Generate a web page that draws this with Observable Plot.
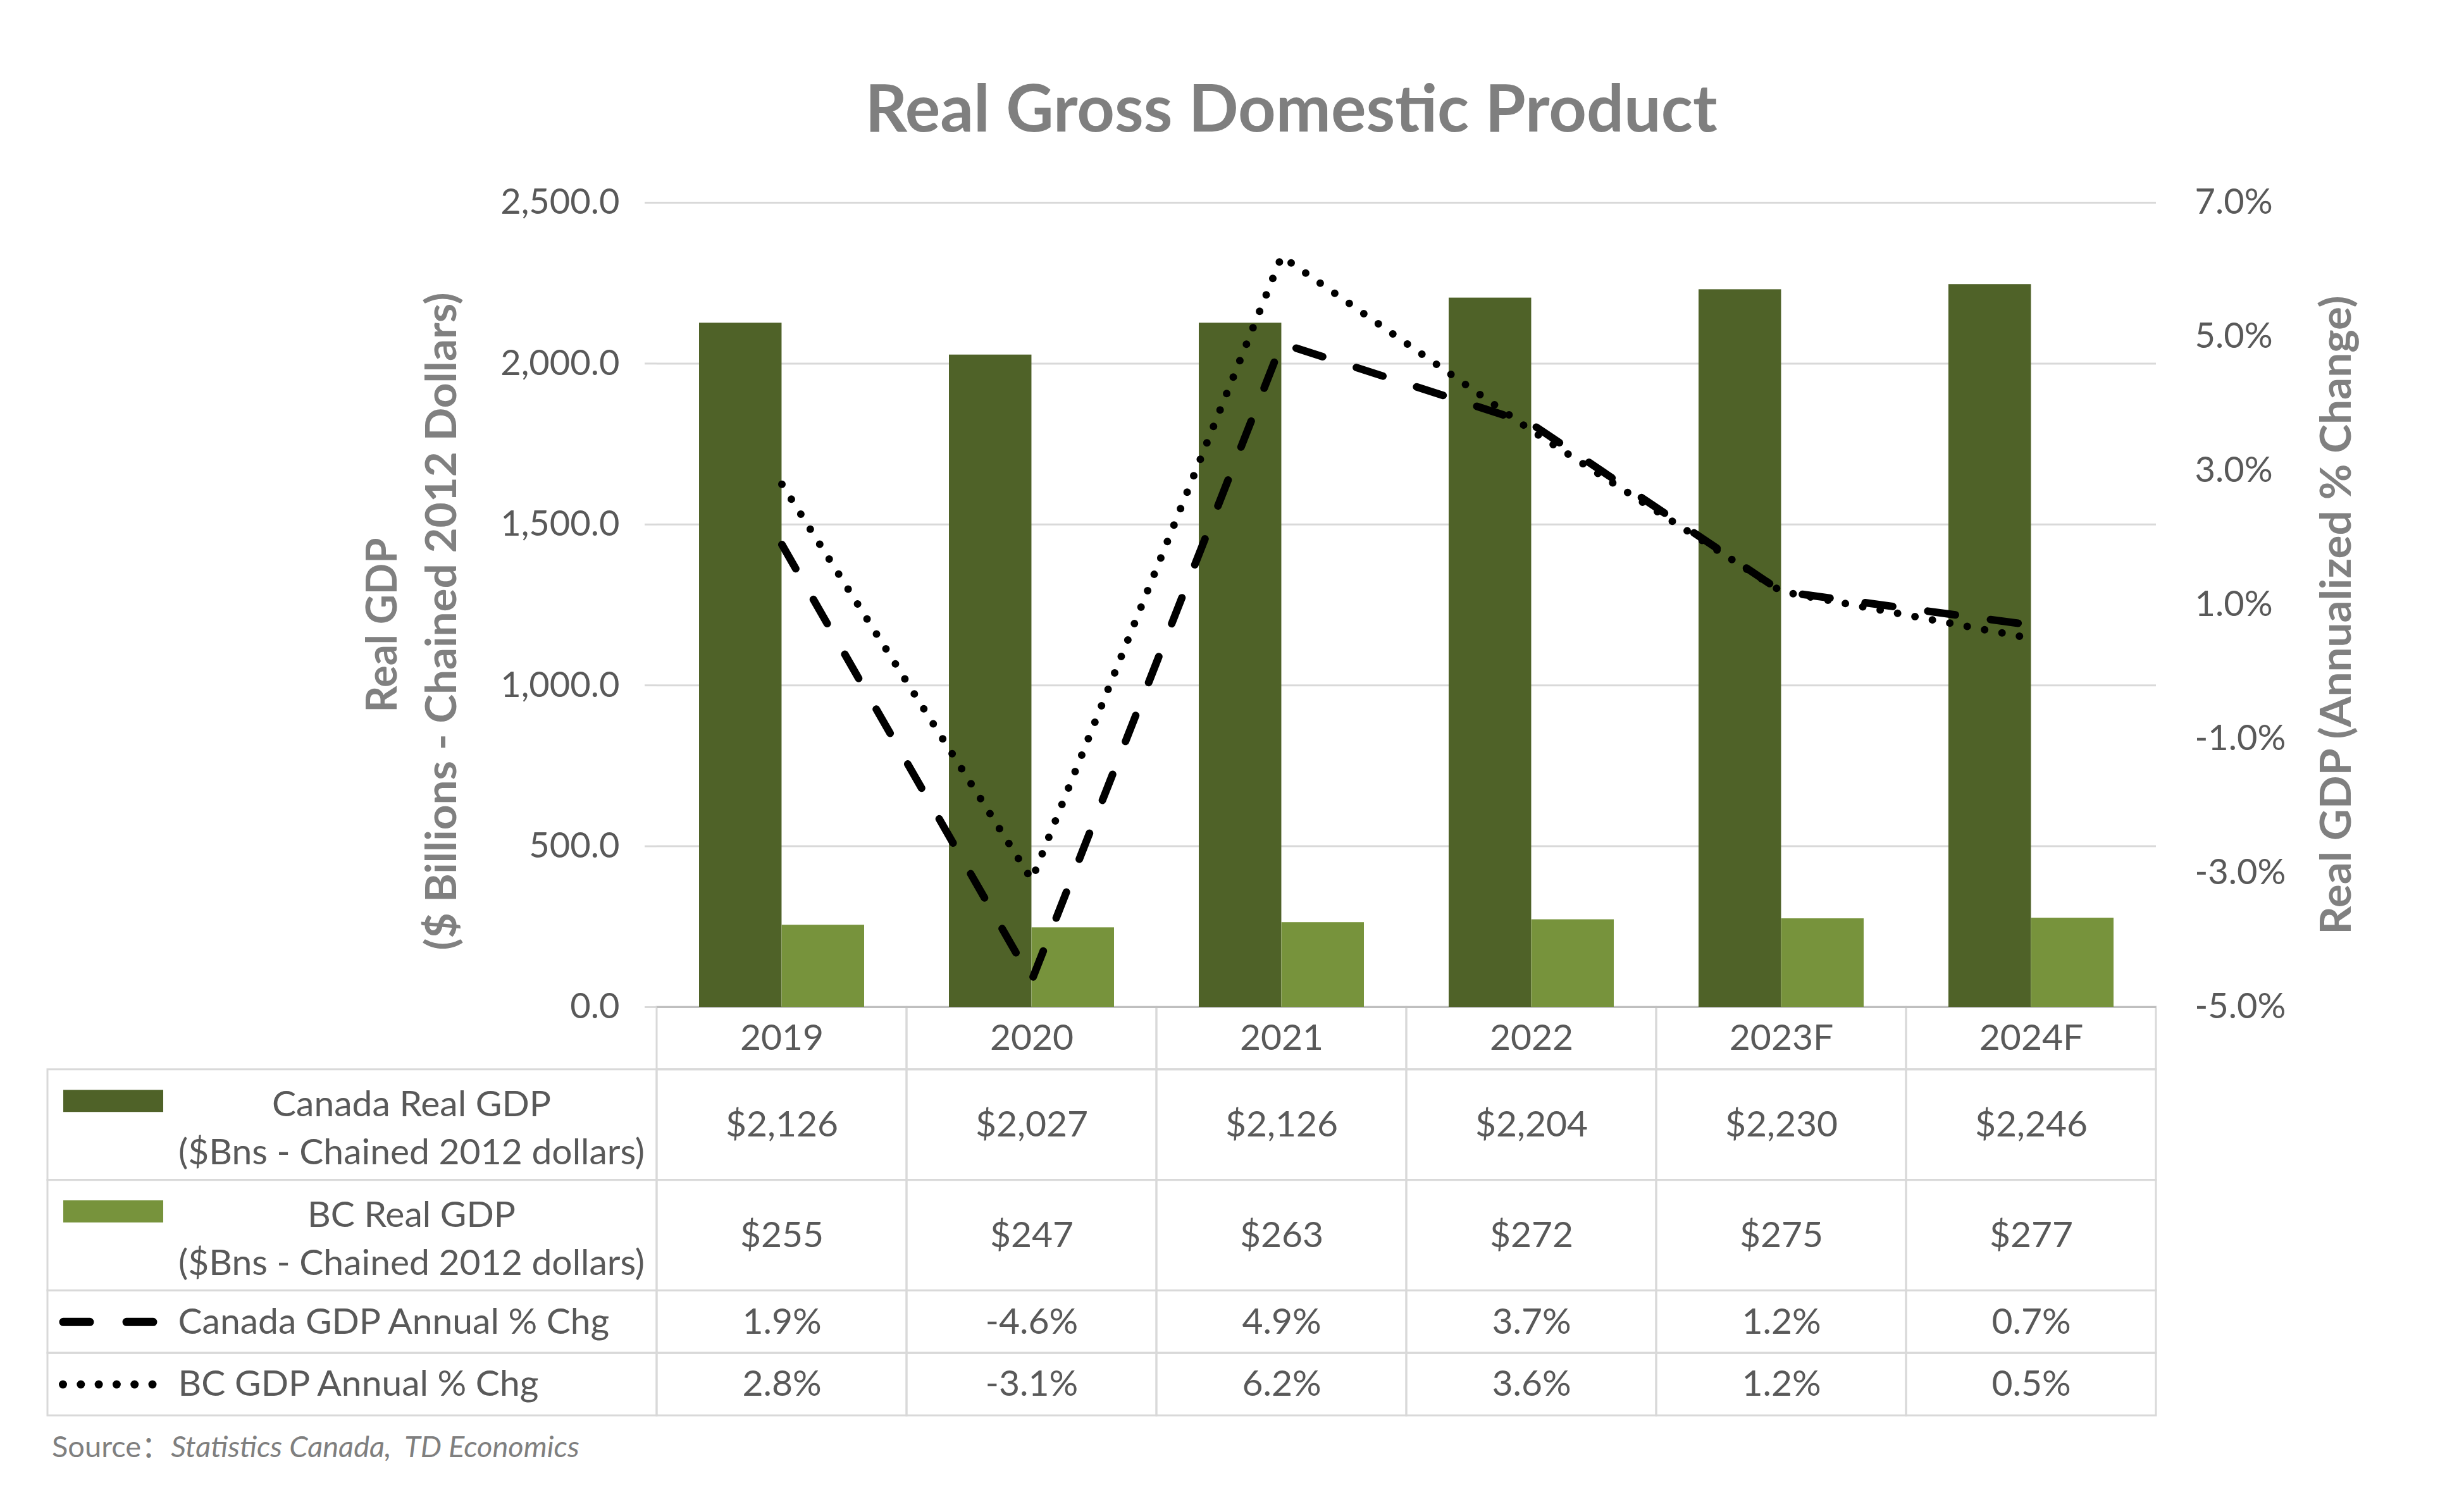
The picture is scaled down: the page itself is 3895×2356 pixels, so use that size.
<!DOCTYPE html>
<html><head><meta charset="utf-8">
<script src="https://cdn.jsdelivr.net/npm/d3@7"></script>
<script src="https://cdn.jsdelivr.net/npm/@observablehq/plot@0.6"></script>
<style>
html,body{margin:0;padding:0;background:#fff;}
body{width:3895px;height:2356px;position:relative;overflow:hidden;font-family:Lato, sans-serif;}
#title{position:absolute;left:0;top:116px;width:4082px;text-align:center;font:bold 104px/1 Lato, sans-serif;color:#7f7f7f;white-space:nowrap;}
#chart{position:absolute;left:0;top:250px;width:3895px;z-index:2;}
#table{position:absolute;left:0;top:1590px;width:3895px;z-index:1;}
#source{position:absolute;left:82px;top:2263px;font:47px/1 Lato, "Noto Sans CJK SC", sans-serif;color:#7f7f7f;white-space:nowrap;}
</style></head><body>
<div id="title">Real Gross Domestic Product</div>
<div id="chart"></div>
<div id="table"></div>
<div id="source">Source：<i>Statistics Canada,&nbsp; TD Economics</i></div>
<script>
// ---- data ----
const years = ["2019", "2020", "2021", "2022", "2023F", "2024F"];
const canadaGDP = [2126, 2027, 2126, 2204, 2230, 2246];
const bcGDP = [255, 247, 263, 272, 275, 277];
const canadaPct = [1.9, -4.6, 4.9, 3.7, 1.2, 0.7];
const bcPct = [2.8, -3.1, 6.2, 3.6, 1.2, 0.5];
const leftTicks = [0, 500, 1000, 1500, 2000, 2500];
const rightTicks = [-5, -3, -1, 1, 3, 5, 7];
const seriesLabels = [
  "Canada Real GDP\n($Bns - Chained 2012 dollars)",
  "BC Real GDP\n($Bns - Chained 2012 dollars)",
  "Canada GDP Annual % Chg",
  "BC GDP Annual % Chg"
];

// ---- styles / layout ----
const W = 3895, mL = 1038, mR = 487;
const darkGreen = "#4F6228", lightGreen = "#77933C";
const textGray = "#595959", titleGray = "#808080", gridGray = "#d9d9d9";
const padIn = 0.339;
const plotW = W - mL - mR;
const half = (plotW / years.length) * (1 - padIn) / 2;

const pctToLeft = d3.scaleLinear([-5, 7], [0, 2500]);
const bars = years.map((y, i) => ({year: y, canada: canadaGDP[i], bc: bcGDP[i]}));
const canLine = years.map((y, i) => ({year: y, v: pctToLeft(canadaPct[i])}));
const bcLine = years.map((y, i) => ({year: y, v: pctToLeft(bcPct[i])}));

const chart = Plot.plot({
  width: W, height: 1345,
  marginTop: 70, marginBottom: 3, marginLeft: mL, marginRight: mR,
  style: {background: "transparent", fontFamily: "Lato, sans-serif", overflow: "visible"},
  x: {type: "band", domain: years, paddingInner: padIn, paddingOuter: padIn / 2, axis: null},
  y: {domain: [0, 2500], axis: null},
  marks: [
    Plot.gridY(leftTicks, {stroke: gridGray, strokeOpacity: 1, strokeWidth: 3}),
    Plot.axisY(leftTicks, {anchor: "left", tickSize: 19, tickPadding: 40, stroke: gridGray, strokeOpacity: 1, strokeWidth: 3,
      fill: textGray, fontSize: 56, tickFormat: d3.format(",.1f"), label: null, line: true}),
    Plot.axisY(rightTicks.map(pctToLeft), {anchor: "right", tickSize: 0, tickPadding: 61, stroke: "#dce6f2", strokeOpacity: 1, strokeWidth: 3,
      fill: textGray, fontSize: 56, tickFormat: d => pctToLeft.invert(d).toFixed(1) + "%", label: null, line: true}),
    Plot.ruleY([0], {stroke: "#bfbfbf", strokeWidth: 3}),
    Plot.barY(bars, {x: "year", y: "canada", fill: darkGreen, insetRight: half}),
    Plot.barY(bars, {x: "year", y: "bc", fill: lightGreen, insetLeft: half}),
    Plot.lineY(canLine, {x: "year", y: "v", stroke: "black", strokeWidth: 12, strokeDasharray: "44,56", strokeLinecap: "round", strokeLinejoin: "round"}),
    Plot.lineY(bcLine, {x: "year", y: "v", stroke: "black", strokeWidth: 12, strokeDasharray: "0,28", strokeLinecap: "round", strokeLinejoin: "round"}),
    Plot.text(["Real GDP"], {text: d => d, frameAnchor: "left", textAnchor: "middle", dx: -433, dy: 32, rotate: -90, fontSize: 67, fontWeight: "bold", fill: titleGray}),
    Plot.text(["($ Billions - Chained 2012 Dollars)"], {text: d => d, frameAnchor: "left", textAnchor: "middle", dx: -339, dy: 26, rotate: -90, fontSize: 67, fontWeight: "bold", fill: titleGray}),
    Plot.text(["Real GDP (Annualized % Change)"], {text: d => d, frameAnchor: "right", textAnchor: "middle", dx: 286, dy: 16, rotate: -90, fontSize: 67, fontWeight: "bold", fill: titleGray})
  ]
});
const lengths = {"Real GDP": 276, "($ Billions - Chained 2012 Dollars)": 1040, "Real GDP (Annualized % Change)": 1010};
d3.select(chart).selectAll("text").each(function () {
  const t = this.textContent;
  if (lengths[t]) { this.setAttribute("textLength", lengths[t]); this.setAttribute("lengthAdjust", "spacingAndGlyphs"); }
});
document.getElementById("chart").append(chart);

// ---- data table ----
const fmtDollar = d3.format("$,");
const fmtPct = v => v.toFixed(1) + "%";
const rowDefs = [
  {key: "header", label: "", values: years},
  {key: "canGDP", label: seriesLabels[0], values: canadaGDP.map(fmtDollar)},
  {key: "bcGDP", label: seriesLabels[1], values: bcGDP.map(fmtDollar)},
  {key: "canPct", label: seriesLabels[2], values: canadaPct.map(fmtPct)},
  {key: "bcPct", label: seriesLabels[3], values: bcPct.map(fmtPct)}
];
let acc = 0;
const rows = rowDefs.map(r => {
  const lines = r.label ? r.label.split("\n").length : 1;
  const y0 = acc; acc += lines + 0.3;
  return {...r, lines, y0, y1: acc, mid: (y0 + acc) / 2};
});
const total = acc;
const unitPx = 76;
const cells = rows.flatMap(r => years.map((y, i) => ({year: y, y0: r.y0, y1: r.y1, mid: r.mid, text: r.values[i]})));
const body = rows.slice(1);
const byKey = Object.fromEntries(rows.map(r => [r.key, r]));
const frameW = W - mR - 75;

const table = Plot.plot({
  width: W, height: Math.round(total * unitPx) + 4,
  marginTop: 2, marginBottom: 2, marginLeft: 75, marginRight: mR,
  style: {background: "transparent", fontFamily: "Lato, sans-serif", overflow: "visible"},
  x: {type: "band", domain: years, range: [mL, W - mR], padding: 0, axis: null},
  y: {domain: [0, total], reverse: true, axis: null},
  marks: [
    Plot.barY(cells, {x: "year", y1: "y0", y2: "y1", fill: "none", stroke: gridGray, strokeWidth: 3}),
    Plot.rect(body, {y1: "y0", y2: "y1", insetRight: W - mR - mL, fill: "none", stroke: gridGray, strokeWidth: 3}),
    Plot.text(cells, {x: "year", y: "mid", text: "text", fontSize: 57, fill: textGray}),
    Plot.text(body.filter(r => r.lines > 1), {frameAnchor: "left", y: "mid", text: "label", dx: 575, textAnchor: "middle", lineHeight: 1.333, fontSize: 57, fill: textGray}),
    Plot.text(body.filter(r => r.lines === 1), {frameAnchor: "left", y: "mid", text: "label", dx: 206, textAnchor: "start", fontSize: 57, fill: textGray}),
    Plot.ruleY([byKey.canGDP], {y: r => r.mid - 0.5, stroke: darkGreen, strokeWidth: 35, insetLeft: 25, insetRight: frameW - 183}),
    Plot.ruleY([byKey.bcGDP], {y: r => r.mid - 0.5, stroke: lightGreen, strokeWidth: 35, insetLeft: 25, insetRight: frameW - 183}),
    Plot.ruleY([byKey.canPct], {y: "mid", stroke: "black", strokeWidth: 13, strokeDasharray: "42,58", strokeLinecap: "round", insetLeft: 25, insetRight: frameW - 168}),
    Plot.ruleY([byKey.bcPct], {y: "mid", stroke: "black", strokeWidth: 13, strokeDasharray: "0,28.3", strokeLinecap: "round", insetLeft: 24.5, insetRight: frameW - 167})
  ]
});
document.getElementById("table").append(table);
</script>
</body></html>
